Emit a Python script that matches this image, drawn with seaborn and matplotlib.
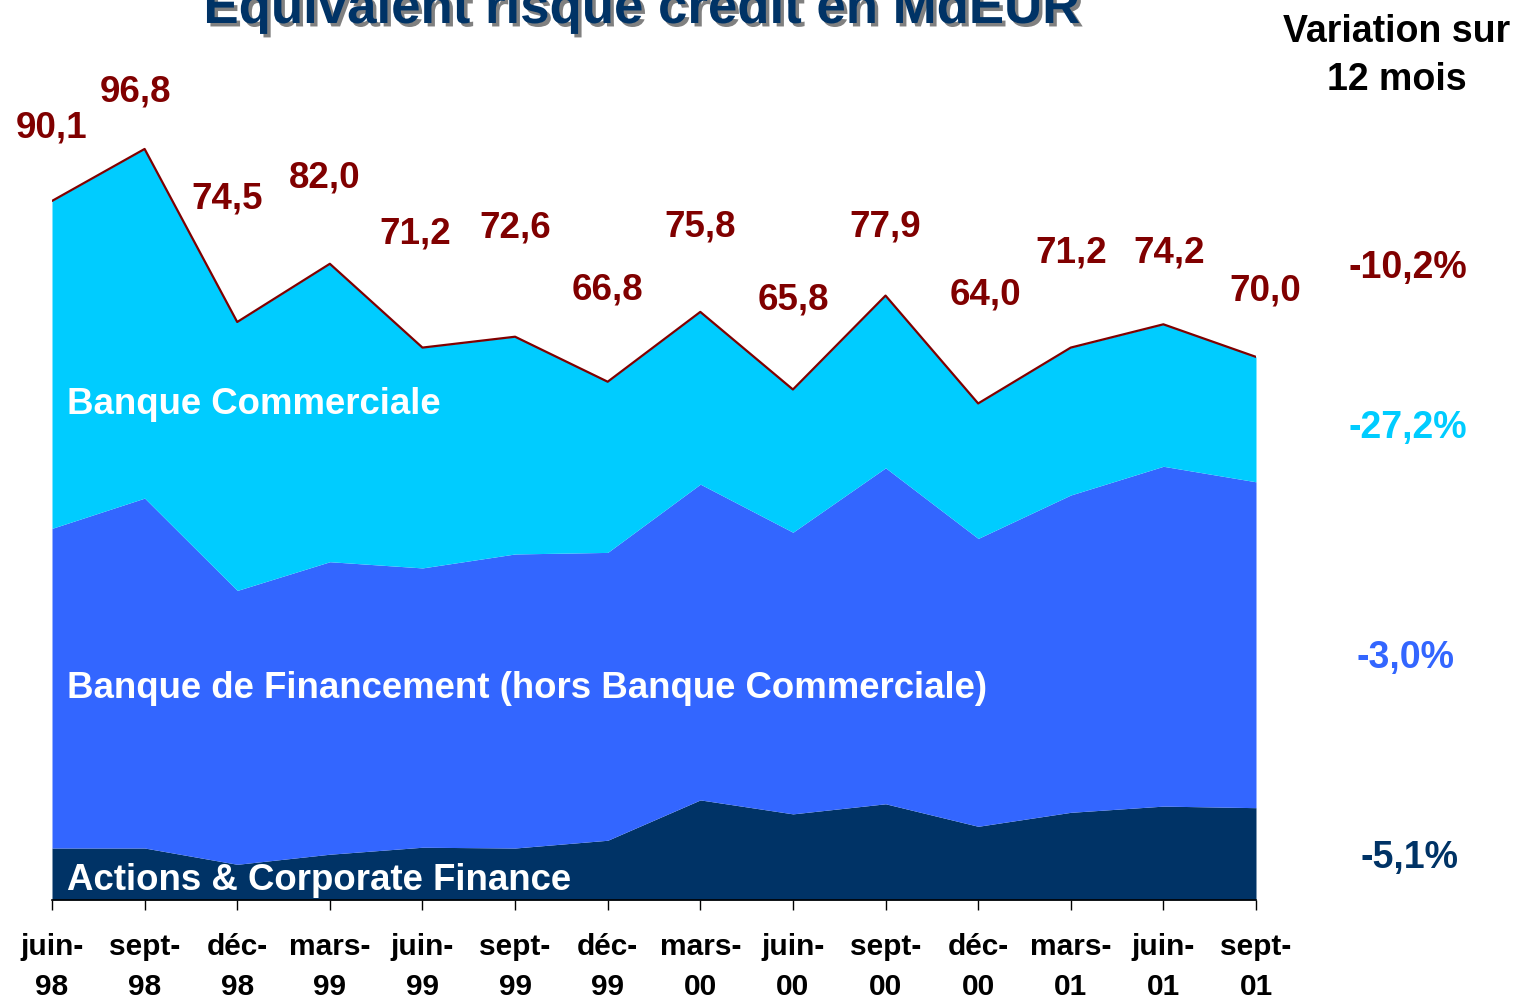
import matplotlib
matplotlib.use("Agg")
import matplotlib.pyplot as plt
import matplotlib.patheffects as pe
import numpy as np
import pandas as pd
import seaborn as sns

# ---- data ----
periods = ["juin-\n98", "sept-\n98", "déc-\n98", "mars-\n99", "juin-\n99", "sept-\n99", "déc-\n99",
           "mars-\n00", "juin-\n00", "sept-\n00", "déc-\n00", "mars-\n01", "juin-\n01", "sept-\n01"]
totals = [90.1, 96.8, 74.5, 82.0, 71.2, 72.6, 66.8, 75.8, 65.8, 77.9, 64.0, 71.2, 74.2, 70.0]
actions_cf = [6.7, 6.7, 4.6, 5.9, 6.8, 6.7, 7.7, 12.9, 11.1, 12.4, 9.5, 11.3, 12.1, 11.9]
banque_fin = [41.2, 45.1, 35.3, 37.7, 36.0, 37.9, 37.1, 40.7, 36.3, 43.3, 37.1, 40.9, 43.8, 42.0]
total_labels = ["90,1", "96,8", "74,5", "82,0", "71,2", "72,6", "66,8", "75,8", "65,8", "77,9",
                "64,0", "71,2", "74,2", "70,0"]
series_names = ["Actions & Corporate Finance",
                "Banque de Financement (hors Banque Commerciale)",
                "Banque Commerciale"]
variations = ["-5,1%", "-3,0%", "-27,2%", "-10,2%"]

# label placement offsets (data units) for the total labels
label_dx = [0, -0.1, -0.11, -0.06, -0.08, 0, 0, 0, 0, 0, 0.08, 0, 0.06, 0.1]
label_dy = [9.4, 7.4, 15.9, 11.0, 14.7, 14.0, 11.8, 11.0, 11.5, 8.9, 14.0, 12.2, 9.2, 8.5]

# ---- styling ----
sns.set_theme(style="white")
plt.rcParams["font.family"] = ["Liberation Sans", "DejaVu Sans"]
plt.rcParams["font.weight"] = "bold"

c_actions = "#003366"
c_fin = "#3366FF"
c_com = "#00CCFF"
c_total = "#800000"

df = pd.DataFrame({
    "x": np.arange(len(periods)),
    "total": totals,
    "actions": actions_cf,
    "fin": banque_fin,
})
df["com"] = df["total"] - df["actions"] - df["fin"]

W, H = 1518, 1001
fig = plt.figure(figsize=(W / 100, H / 100), dpi=100)
ax = fig.add_axes([52 / W, 101 / H, (1256 - 52) / W, 900 / H])

ax.stackplot(df["x"], df["actions"], df["fin"], df["com"],
             colors=[c_actions, c_fin, c_com], linewidth=0)
sns.lineplot(data=df, x="x", y="total", ax=ax, color=c_total, linewidth=1.6)

ax.set_xlim(0, len(periods) - 1)
ax.set_ylim(0, 116)
ax.set_xlabel("")
ax.set_ylabel("")
ax.set_yticks([])
ax.set_xticks(df["x"])
ax.set_xticklabels(periods, fontsize=21.5, fontweight="bold", color="black", linespacing=1.55)
ax.tick_params(axis="x", direction="out", length=7.5, width=1, color="black", pad=16, bottom=True)
for s in ["top", "right", "left"]:
    ax.spines[s].set_visible(False)
ax.spines["bottom"].set_color("black")
ax.spines["bottom"].set_linewidth(1.2)

# total labels
for i, lab in enumerate(total_labels):
    ax.text(df["x"][i] + label_dx[i], totals[i] + label_dy[i], lab, ha="center", va="center",
            fontsize=26.5, fontweight="bold", color=c_total)

def fx(px):
    return px / W

def fy(py):
    return 1 - py / H

# layer labels
fig.text(fx(67), fy(405), series_names[2], ha="left", va="center", fontsize=26.4,
         fontweight="bold", color="white")
fig.text(fx(67), fy(689), series_names[1], ha="left", va="center", fontsize=26.4,
         fontweight="bold", color="white")
fig.text(fx(67), fy(881), series_names[0], ha="left", va="center", fontsize=26.4,
         fontweight="bold", color="white")

# title
fig.text(fx(641), fy(23), "Equivalent risque crédit en MdEUR", ha="center", va="baseline",
         fontsize=38, fontweight="bold", color="#003366",
         path_effects=[pe.withSimplePatchShadow(offset=(2.5, -2.5), shadow_rgbFace="#808080", alpha=1.0)])

# variation column
fig.text(fx(1397), fy(56), "Variation sur\n12 mois", ha="center", va="center", multialignment="center",
         fontsize=27, fontweight="bold", color="black", linespacing=1.45)
fig.text(fx(1408), fy(268), variations[3], ha="center", va="center", fontsize=27, fontweight="bold", color=c_total)
fig.text(fx(1408), fy(428), variations[2], ha="center", va="center", fontsize=27, fontweight="bold", color=c_com)
fig.text(fx(1406), fy(658), variations[1], ha="center", va="center", fontsize=27, fontweight="bold", color=c_fin)
fig.text(fx(1410), fy(858), variations[0], ha="center", va="center", fontsize=27, fontweight="bold", color=c_actions)

fig.savefig("out.png", dpi=100, facecolor="white")
